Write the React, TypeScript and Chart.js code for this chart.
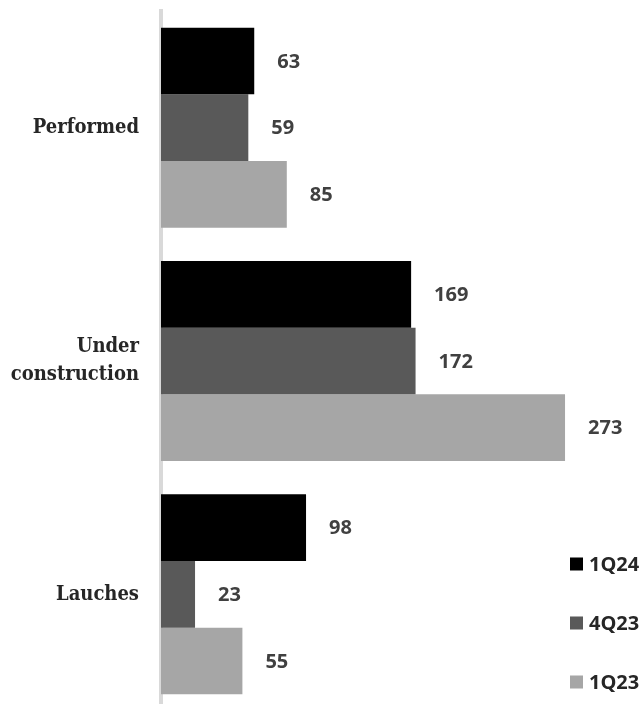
import React, { useEffect, useRef } from "react";
import { Chart, registerables } from "chart.js";

Chart.register(...registerables);

// Categories (multi-line label kept as an array)
const categories: (string | string[])[] = ["Performed", ["Under", "construction"], "Lauches"];

// Series values per category
const series1Q24 = [63, 169, 98];
const series4Q23 = [59, 172, 23];
const series1Q23 = [85, 273, 55];

const seriesLabels = ["1Q24", "4Q23", "1Q23"];
const seriesColors = ["#000000", "#595959", "#a6a6a6"];

const valueFont = '"Open Sans", "DejaVu Sans", sans-serif';
const categoryFont = '"DejaVu Serif Condensed", "DejaVu Serif", serif';

// Writes each bar's value just past its end
const valueLabels = {
  id: "valueLabels",
  afterDatasetsDraw(chart: Chart) {
    const { ctx } = chart;
    ctx.save();
    ctx.font = `bold 20px ${valueFont}`;
    ctx.fillStyle = "#404040";
    ctx.textAlign = "left";
    ctx.textBaseline = "middle";
    chart.data.datasets.forEach((ds, di) => {
      const meta = chart.getDatasetMeta(di);
      meta.data.forEach((bar: any, i) => {
        const v = ds.data[i] as number;
        ctx.fillText(String(v), bar.x + 23, bar.y + 1);
      });
    });
    ctx.restore();
  },
};

// Vertical legend in the lower right corner
const sideLegend = {
  id: "sideLegend",
  afterDraw(chart: Chart) {
    const { ctx } = chart;
    const box = 13;
    const step = 59;
    const x0 = chart.width - 69;
    const yLast = chart.chartArea.bottom - 29;
    const n = chart.data.datasets.length;
    ctx.save();
    ctx.font = `bold 20px ${valueFont}`;
    ctx.textAlign = "left";
    ctx.textBaseline = "middle";
    chart.data.datasets.forEach((ds, di) => {
      const y = yLast - (n - 1 - di) * step;
      ctx.fillStyle = ds.backgroundColor as string;
      ctx.fillRect(x0, y - box / 2, box, box);
      ctx.fillStyle = "#262626";
      ctx.fillText(ds.label as string, x0 + box + 6, y + 1);
    });
    ctx.restore();
  },
};

export default function App() {
  const canvasRef = useRef<HTMLCanvasElement | null>(null);

  useEffect(() => {
    if (!canvasRef.current) return;
    const data = [series1Q24, series4Q23, series1Q23];
    const chart = new Chart(canvasRef.current, {
      type: "bar",
      data: {
        labels: categories,
        datasets: data.map((d, i) => ({
          label: seriesLabels[i],
          data: d,
          backgroundColor: seriesColors[i],
          borderWidth: 0,
          barPercentage: 1,
          categoryPercentage: 0.857,
        })),
      },
      options: {
        indexAxis: "y",
        responsive: false,
        animation: false,
        layout: { padding: { top: 11, right: 34, bottom: 0, left: 0 } },
        plugins: {
          legend: { display: false },
          tooltip: { enabled: false },
        },
        scales: {
          x: {
            display: false,
            min: 0,
            max: 300,
          },
          y: {
            grid: { display: false, drawTicks: false },
            border: { display: true, color: "#d9d9d9", width: 4 },
            ticks: {
              padding: 22,
              color: "#262626",
              font: { family: categoryFont, size: 20, weight: "bold", lineHeight: 1.4 },
            },
            afterFit(scale: any) {
              scale.width = 161;
              scale.paddingTop = 0;
              scale.paddingBottom = 0;
            },
          },
        },
      },
      plugins: [valueLabels, sideLegend],
    });
    return () => chart.destroy();
  }, []);

  return (
    <div
      style={{
        position: "fixed",
        left: 0,
        top: 0,
        width: 639,
        height: 704,
        overflow: "hidden",
        background: "#ffffff",
      }}
    >
      <canvas ref={canvasRef} width={639} height={711} style={{ display: "block" }} />
    </div>
  );
}
